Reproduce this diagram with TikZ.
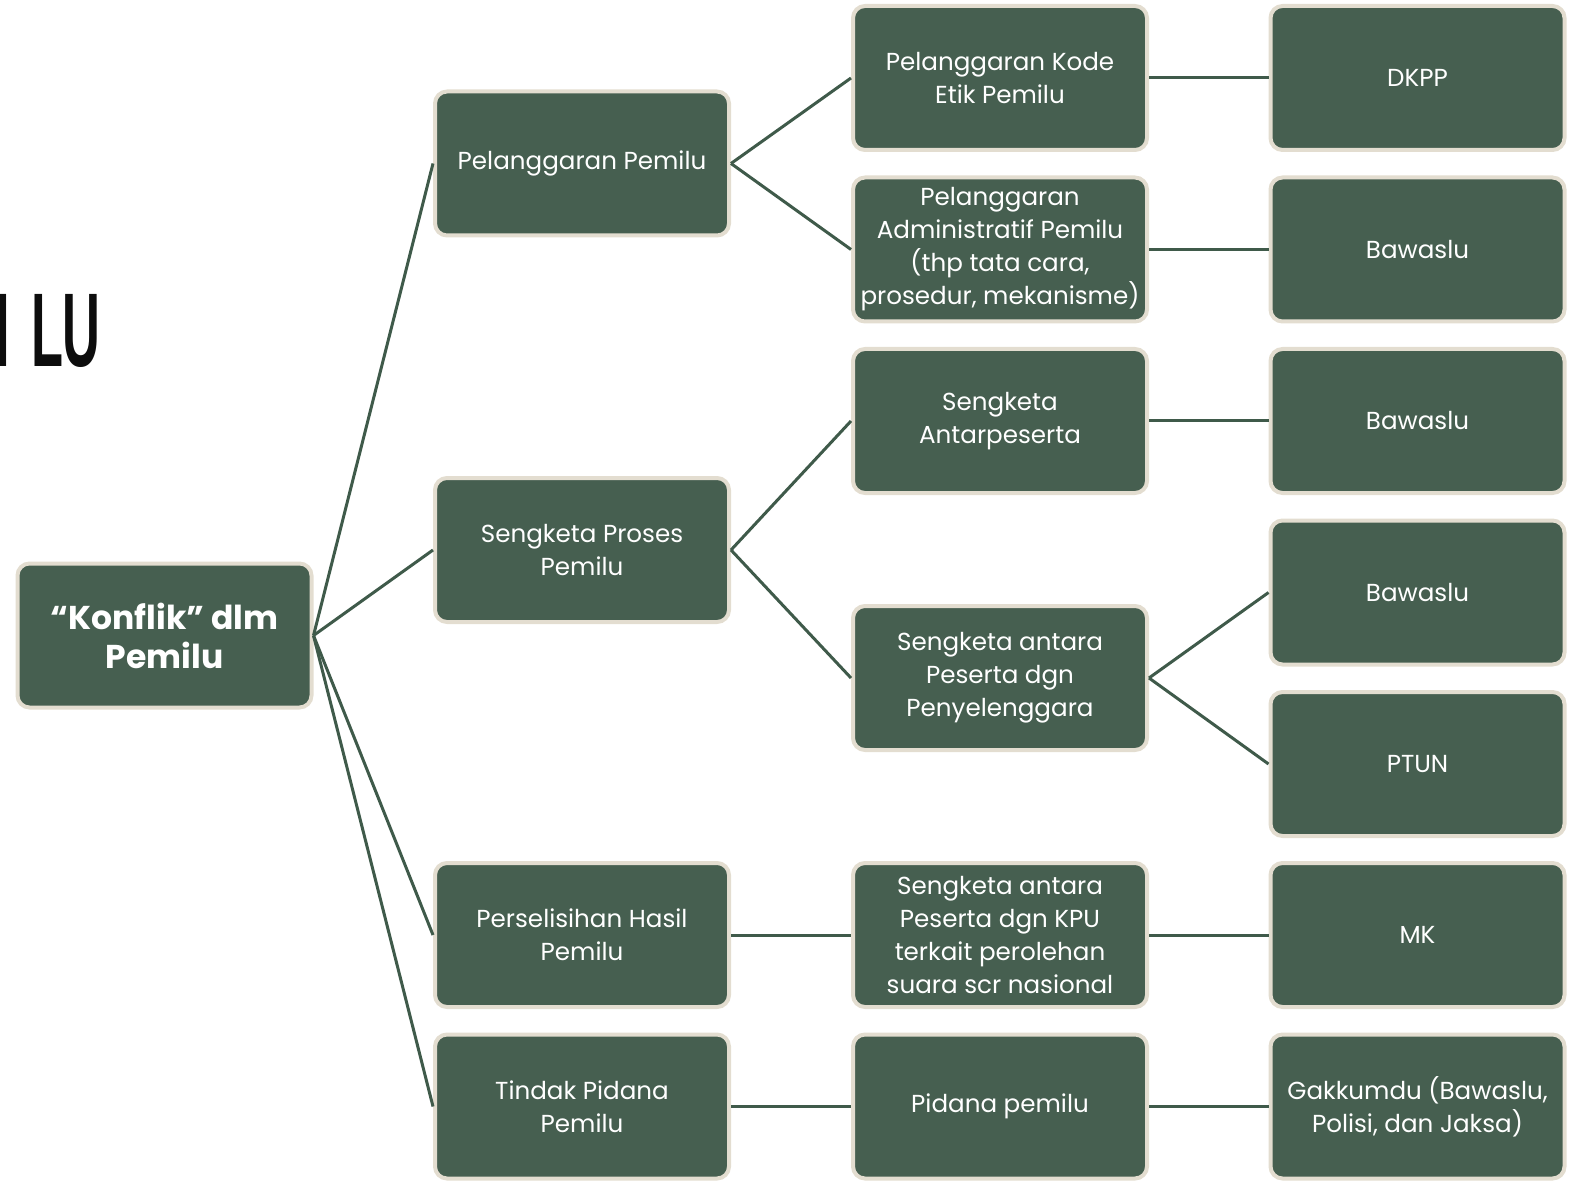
\documentclass[tikz,border=0pt]{standalone}
\usepackage{fontspec}
\setmainfont{Poppins}
\newfontfamily\titlefont{Liberation Sans}
\definecolor{boxfill}{HTML}{465F50}
\definecolor{boxedge}{HTML}{E3DDD0}
\definecolor{linkcol}{HTML}{3F5A4A}
\tikzset{
  box/.style={draw=boxedge, line width=2pt, fill=boxfill, rounded corners=6pt,
    minimum width=147pt, minimum height=72pt, text=white, align=center,
    inner sep=1pt, font=\fontsize{12.3}{16.5}\selectfont},
  rootbox/.style={box, font=\bfseries\fontsize{16.5}{19.5}\selectfont},
  link/.style={draw=linkcol, line width=1.5pt}
}
\begin{document}
\begin{tikzpicture}[x=0.5pt,y=-0.5pt]
\useasboundingbox (0,0) rectangle (1593,1197);
% partial title (clipped at the page edge)
\node[anchor=base west, inner sep=0pt, text=black!95] (title) at (-5,367)
  {\scalebox{0.5}[1]{\titlefont\bfseries\fontsize{52.4}{52.4}\selectfont I\kern22pt L\kern-2pt U}};
% root
\node[rootbox] (root) at (164.5,635.5) {“Konflik” dlm\\Pemilu};
% level 1
\node[box] (a1) at (582,163.5) {Pelanggaran Pemilu};
\node[box] (a2) at (582,550) {Sengketa Proses\\Pemilu};
\node[box] (a3) at (582,935) {Perselisihan Hasil\\Pemilu};
\node[box] (a4) at (582,1106.5) {Tindak Pidana\\Pemilu};
% level 2
\node[box] (b1) at (1000,78) {Pelanggaran Kode\\Etik Pemilu};
\node[box] (b2) at (1000,249.5) {Pelanggaran\\Administratif Pemilu\\(thp tata cara,\\prosedur, mekanisme)};
\node[box] (b3) at (1000,421) {Sengketa\\Antarpeserta};
\node[box] (b4) at (1000,678) {Sengketa antara\\Peserta dgn\\Penyelenggara};
\node[box] (b5) at (1000,935) {Sengketa antara\\Peserta dgn KPU\\terkait perolehan\\suara scr nasional};
\node[box] (b6) at (1000,1106.5) {Pidana pemilu};
% level 3
\node[box] (c1) at (1417.5,78) {DKPP};
\node[box] (c2) at (1417.5,249.5) {Bawaslu};
\node[box] (c3) at (1417.5,421) {Bawaslu};
\node[box] (c4) at (1417.5,592.5) {Bawaslu};
\node[box] (c5) at (1417.5,764) {PTUN};
\node[box] (c6) at (1417.5,935) {MK};
\node[box] (c7) at (1417.5,1106.5) {Gakkumdu (Bawaslu,\\Polisi, dan Jaksa)};
% connectors
\foreach \t in {a1,a2,a3,a4} \draw[link] (root.east) -- (\t.west);
\draw[link] (a1.east) -- (b1.west);
\draw[link] (a1.east) -- (b2.west);
\draw[link] (a2.east) -- (b3.west);
\draw[link] (a2.east) -- (b4.west);
\draw[link] (a3.east) -- (b5.west);
\draw[link] (a4.east) -- (b6.west);
\draw[link] (b1.east) -- (c1.west);
\draw[link] (b2.east) -- (c2.west);
\draw[link] (b3.east) -- (c3.west);
\draw[link] (b4.east) -- (c4.west);
\draw[link] (b4.east) -- (c5.west);
\draw[link] (b5.east) -- (c6.west);
\draw[link] (b6.east) -- (c7.west);
\end{tikzpicture}
\end{document}
